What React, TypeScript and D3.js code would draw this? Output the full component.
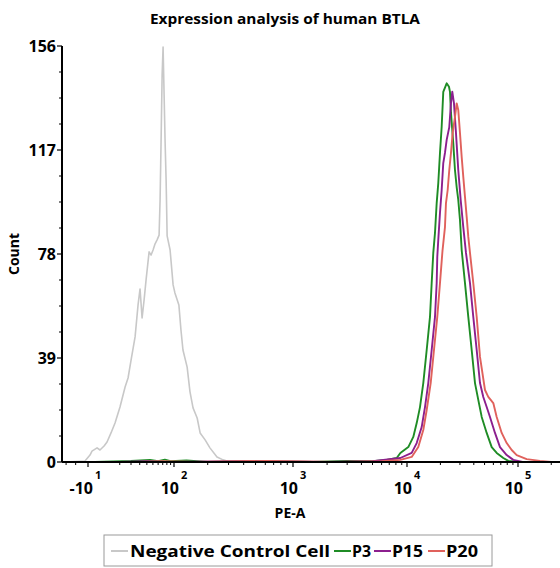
import React from 'react';
import * as d3 from 'd3';

const W = 560;
const H = 568;
const FONT = "'Open Sans', 'DejaVu Sans', sans-serif";

// [PE-A value, count]
const negativeControl: [number, number][] = [
  [-35, 0], [-31, 0], [-12.2, 0.4], [-8.5, 2.6], [-7.1, 4.1], [-3.8, 5.3], [-2.1, 4.5], [0.1, 6],
  [1.7, 7.5], [4, 10.9], [6.6, 14.6], [10.2, 20.6], [14.4, 28.1], [17.1, 31.5], [20.1, 38.3],
  [24.4, 46.9], [27.9, 58.9], [30.4, 64.9], [33.1, 54], [35.9, 60.8], [38.8, 68.3], [43.5, 78.8],
  [46.8, 77.6], [50.3, 79.5], [54, 81.8], [57.9, 83.3], [62, 85.1], [64.1, 98.3], [66.3, 120.8],
  [68.6, 145.1], [70.8, 155.6], [73.2, 137.6], [75.6, 120], [78.1, 105.8], [80.7, 84.8],
  [88.6, 79.5], [97.3, 66.4], [102, 63.4], [107, 60.8], [111, 58.9], [116, 49.5], [121, 42],
  [132, 35.6], [140, 26.3], [149, 20.3], [162, 16.5], [172, 10.9], [190, 8.3], [209, 5.3],
  [240, 1.9], [270, 0.8], [309, 0], [1000, 0], [240000, 0],
];

const p3: [number, number][] = [
  [-35, 0], [-5, 0], [20, 0.4], [45, 0.8], [60, 0.3], [75, 0.9], [90, 0.3], [130, 0.6], [200, 0],
  [500, 0.3], [1500, 0], [3000, 0.4], [5000, 0.3], [6637, 0.8], [8128, 1.5], [8750, 3.4],
  [10273, 5.6], [11397, 9.4], [12231, 14.6], [13097, 20.6], [14023, 29.6], [15050, 42],
  [16114, 54.4], [16693, 67.1], [17256, 78.4], [17878, 85.9], [18518, 97.1], [19143, 104.6],
  [19830, 115.9], [20540, 125.7], [21232, 138.8], [22787, 142], [23899, 140.7], [24400, 138.8],
  [24912, 130.9], [26124, 119.6], [27061, 109.5], [28033, 103.1], [28983, 98.3], [30021, 90.8],
  [31101, 79.5], [33312, 67.1], [35679, 54.4], [38280, 42], [40991, 29.6], [43892, 23.3],
  [47105, 16.9], [52240, 10.9], [57955, 5.6], [64284, 3.4], [73726, 1.5], [81781, 0.4],
  [100000, 0], [240000, 0],
];

const p15: [number, number][] = [
  [-35, 0], [10, 0], [40, 0.3], [80, 0], [400, 0.3], [2000, 0], [5000, 0.3], [8750, 1.5],
  [11024, 3.4], [12231, 7.1], [13565, 13.1], [14528, 20.6], [15557, 29.6], [16693, 42],
  [17878, 54.4], [18518, 67.1], [18750, 76.9], [19143, 83.3], [19830, 93.4], [20540, 102],
  [21232, 112.1], [21993, 115.9], [22787, 120.8], [24048, 125.6], [24912, 134.6], [25592, 138.9],
  [26506, 134.6], [27629, 123.4], [28983, 109.5], [30459, 98.3], [32160, 88.1], [34010, 78.4],
  [36961, 67.1], [39571, 54.4], [42462, 42], [45475, 29.6], [48692, 24.4], [52240, 20.6],
  [55939, 16.9], [62058, 10.9], [68833, 5.6], [79113, 2.6], [90740, 0.8], [110000, 0], [240000, 0],
];

const p20: [number, number][] = [
  [-35, 0], [30, 0], [70, 0.3], [150, 0], [600, 0.4], [2500, 0], [6000, 0.3], [8750, 0.8],
  [11024, 1.9], [12643, 5.6], [14023, 12], [15050, 19.5], [16350, 29.6], [17508, 42],
  [18750, 54.4], [19830, 67.1], [20880, 79.1], [21993, 88.1], [22458, 97.1], [23264, 102],
  [24048, 109.5], [24912, 115.9], [25805, 123.4], [27061, 129.4], [28033, 134.5], [28983, 132],
  [30021, 123.4], [31101, 114.4], [32160, 106.9], [33312, 99.4], [34508, 91.9], [35679, 84.4],
  [36961, 78.4], [39571, 67.1], [42462, 54.4], [45475, 39.4], [50438, 27], [54004, 24.4],
  [59909, 22.1], [64284, 16.9], [71320, 10.9], [79113, 7.1], [87740, 4.5], [97340, 2.6],
  [119770, 1.1], [158000, 0.4], [200000, 0], [240000, 0],
];

const series = [
  { name: 'Negative Control Cell', color: '#c8c8c8', data: negativeControl },
  { name: 'P3', color: '#1f8c25', data: p3 },
  { name: 'P15', color: '#8c1f8e', data: p15 },
  { name: 'P20', color: '#e0615c', data: p20 },
];

const yTicks = [0, 39, 78, 117, 156];
const xMajor = [
  { v: -10, base: '-10', exp: '1' },
  { v: 100, base: '10', exp: '2' },
  { v: 1000, base: '10', exp: '3' },
  { v: 10000, base: '10', exp: '4' },
  { v: 100000, base: '10', exp: '5' },
];
const xMinor = [
  -30, -20, 10, 20, 30, 40, 50, 60, 70, 80, 90,
  200, 300, 400, 500, 600, 700, 800, 900,
  2000, 3000, 4000, 5000, 6000, 7000, 8000, 9000,
  20000, 30000, 40000, 50000, 60000, 70000, 80000, 90000, 200000,
];

// biexponential-like display: symlog with calibrated decade positions
const x = d3.scaleSymlog()
  .constant(20)
  .domain([-35, -10, 100, 1e3, 1e4, 1e5, 2.4e5])
  .range([62, 88, 174, 293, 407, 518, 560]);

const y = d3.scaleLinear().domain([0, 156]).range([462, 46]);

const line = d3.line<[number, number]>()
  .x(d => x(d[0]))
  .y(d => y(d[1]));

const yMinor = d3.range(0, 156.01, 9.75).filter(v => !yTicks.includes(v));

export default function App() {
  const x0 = x.range()[0];
  const x1 = x.range()[x.range().length - 1];
  const legendX = [104, 492];
  const legendItems = [
    { s: series[0], lx: 111, tx: 130, tw: 200 },
    { s: series[1], lx: 334, tx: 352, tw: 19 },
    { s: series[2], lx: 374, tx: 392, tw: 31 },
    { s: series[3], lx: 428, tx: 446, tw: 32 },
  ];
  return (
    <svg width={W} height={H} style={{ position: 'absolute', left: 0, top: 0, background: '#fff' }}
      fontFamily={FONT} fontWeight="bold">
      <text x={285} y={24} textAnchor="middle" fontSize={15} textLength={270} lengthAdjust="spacingAndGlyphs">
        Expression analysis of human BTLA
      </text>

      {series.map(s => (
        <path key={s.name} d={line(s.data) || ''} fill="none" stroke={s.color}
          strokeWidth={s.name === 'Negative Control Cell' ? 1.6 : 1.9} strokeLinejoin="round" />
      ))}

      {/* y axis */}
      <line x1={x0} x2={x0} y1={y(156)} y2={y(0)} stroke="#000" strokeWidth={2} />
      {yTicks.map(t => (
        <g key={t}>
          <line x1={x0 - 5} x2={x0} y1={y(t)} y2={y(t)} stroke="#000" strokeWidth={1.2} />
          <text x={x0 - 6} y={y(t)} dy="0.36em" textAnchor="end" fontSize={16}>{t}</text>
        </g>
      ))}
      {yMinor.map(t => (
        <line key={t} x1={x0 - 3} x2={x0} y1={y(t)} y2={y(t)} stroke="#000" strokeWidth={1} />
      ))}
      <text transform={`translate(19,${(y(0) + y(156)) / 2}) rotate(-90)`} textAnchor="middle" fontSize={14}>Count</text>

      {/* x axis */}
      <line x1={x0} x2={x1} y1={y(0)} y2={y(0)} stroke="#000" strokeWidth={2} />
      {xMinor.map(v => (
        <line key={v} x1={x(v)} x2={x(v)} y1={y(0)} y2={y(0) + 3} stroke="#000" strokeWidth={1} />
      ))}
      {xMajor.map(t => (
        <g key={t.v}>
          <line x1={x(t.v)} x2={x(t.v)} y1={y(0)} y2={y(0) + 5} stroke="#000" strokeWidth={1.2} />
          <text x={x(t.v) + 5} y={494} textAnchor="end" fontSize={16}>{t.base}</text>
          <text x={x(t.v) + 7} y={479} fontSize={11}>{t.exp}</text>
        </g>
      ))}
      <text x={290} y={518} textAnchor="middle" fontSize={14}>PE-A</text>

      {/* legend */}
      <rect x={legendX[0]} y={535} width={legendX[1] - legendX[0]} height={31} fill="#fff" stroke="#9a9a9a" strokeWidth={1} />
      {legendItems.map(it => (
        <g key={it.s.name}>
          <line x1={it.lx} x2={it.lx + 17} y1={551} y2={551} stroke={it.s.color} strokeWidth={2} />
          <text x={it.tx} y={557} fontSize={16} textLength={it.tw} lengthAdjust="spacingAndGlyphs">{it.s.name}</text>
        </g>
      ))}
    </svg>
  );
}
